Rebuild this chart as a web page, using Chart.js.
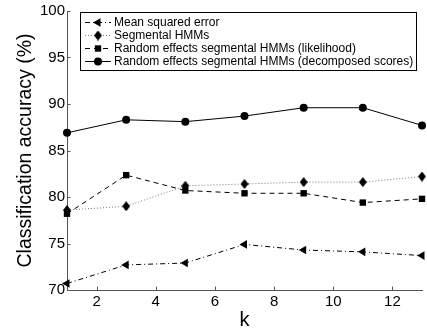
<!DOCTYPE html>
<html lang="en">
<head>
  <meta charset="UTF-8">
  <title>Classification accuracy vs k</title>
  <script src="https://cdn.jsdelivr.net/npm/chart.js"></script>
  <style>
    html, body {
      margin: 0;
      padding: 0;
      background: white;
    }
    #wrap {
      width: 427px;
      height: 329px;
    }
  </style>
</head>
<body>
  <div id="wrap"><canvas id="accChart" width="427" height="329"></canvas></div>

  <script>
    const kValues = [1, 3, 5, 7, 9, 11, 13];
    const mseAcc = [70.7, 72.7, 72.9, 74.9, 74.3, 74.1, 73.7];
    const segAcc = [78.6, 79.0, 81.2, 81.4, 81.6, 81.6, 82.2];
    const reLikAcc = [78.2, 82.35, 80.7, 80.4, 80.4, 79.4, 79.8];
    const reDecAcc = [86.9, 88.3, 88.1, 88.7, 89.6, 89.6, 87.7];

    const xTicks = [2, 4, 6, 8, 10, 12];
    const yTicks = [70, 75, 80, 85, 90, 95, 100];

    const seriesNames = [
      'Mean squared error',
      'Segmental HMMs',
      'Random effects segmental HMMs (likelihood)',
      'Random effects segmental HMMs (decomposed scores)'
    ];

    const FONT = '"Liberation Sans", Arial, Helvetica, sans-serif';
    const AXIS = '#555';

    // matlab style diamond, taller than wide
    const diamond = document.createElement('canvas');
    diamond.width = 8;
    diamond.height = 10;
    (function () {
      const c = diamond.getContext('2d');
      c.fillStyle = 'black';
      c.beginPath();
      c.moveTo(4, 0);
      c.lineTo(8, 5);
      c.lineTo(4, 10);
      c.lineTo(0, 5);
      c.closePath();
      c.fill();
    })();

    function toPoints(ys) {
      return kValues.map((k, i) => ({ x: k, y: ys[i] }));
    }

    // inward tick marks like matlab
    const innerTicks = {
      id: 'innerTicks',
      afterDraw(chart) {
        const ctx = chart.ctx;
        const xs = chart.scales.x;
        const ys = chart.scales.y;
        const area = chart.chartArea;
        ctx.save();
        ctx.strokeStyle = AXIS;
        ctx.lineWidth = 1;
        ctx.beginPath();
        yTicks.forEach(v => {
          const py = Math.round(ys.getPixelForValue(v)) + 0.5;
          ctx.moveTo(area.left, py);
          ctx.lineTo(area.left + 3.5, py);
        });
        xTicks.forEach(v => {
          const px = Math.round(xs.getPixelForValue(v)) + 0.5;
          ctx.moveTo(px, area.bottom);
          ctx.lineTo(px, area.bottom - 3.5);
        });
        ctx.stroke();
        ctx.restore();
      }
    };

    const boxLegend = {
      id: 'boxLegend',
      afterDraw(chart) {
        const ctx = chart.ctx;
        const left = 80.5, top = 12.5, w = 336, h = 58;
        ctx.save();
        ctx.fillStyle = 'white';
        ctx.fillRect(left, top, w, h);
        ctx.strokeStyle = 'black';
        ctx.lineWidth = 1;
        ctx.strokeRect(left, top, w, h);
        ctx.font = '12px ' + FONT;
        ctx.textBaseline = 'middle';
        ctx.textAlign = 'left';
        chart.data.datasets.forEach((ds, i) => {
          const y = 22.5 + i * 13;
          ctx.save();
          ctx.strokeStyle = ds.borderColor;
          ctx.lineWidth = ds.borderWidth;
          ctx.setLineDash(ds.borderDash || []);
          ctx.beginPath();
          ctx.moveTo(85, y);
          ctx.lineTo(111, y);
          ctx.stroke();
          ctx.restore();
          ctx.fillStyle = 'black';
          ctx.strokeStyle = 'black';
          Chart.helpers.drawPoint(ctx, {
            pointStyle: ds.pointStyle,
            radius: ds.pointRadius,
            rotation: ds.pointRotation || 0,
            borderWidth: 0
          }, 98, y);
          ctx.fillStyle = 'black';
          ctx.fillText(ds.label, 114, y + 0.5);
        });
        ctx.restore();
      }
    };

    const ctx = document.getElementById('accChart').getContext('2d');

    const chart = new Chart(ctx, {
      type: 'line',
      data: {
        datasets: [
          {
            label: seriesNames[0],
            data: toPoints(mseAcc),
            borderColor: 'black',
            borderWidth: 1,
            borderDash: [5, 3, 1, 3],
            pointStyle: 'triangle',
            pointRotation: -90,
            pointRadius: 5,
            backgroundColor: 'black',
            pointBorderWidth: 0
          },
          {
            label: seriesNames[1],
            data: toPoints(segAcc),
            borderColor: '#777',
            borderWidth: 1,
            borderDash: [1, 2],
            pointStyle: diamond,
            pointRadius: 5,
            backgroundColor: 'black',
            pointBorderWidth: 0
          },
          {
            label: seriesNames[2],
            data: toPoints(reLikAcc),
            borderColor: 'black',
            borderWidth: 1,
            borderDash: [5, 4],
            pointStyle: 'rect',
            pointRadius: 4.5,
            backgroundColor: 'black',
            pointBorderWidth: 0
          },
          {
            label: seriesNames[3],
            data: toPoints(reDecAcc),
            borderColor: 'black',
            borderWidth: 1,
            pointStyle: 'circle',
            pointRadius: 4,
            backgroundColor: 'black',
            pointBorderWidth: 0
          }
        ]
      },
      options: {
        responsive: false,
        animation: false,
        clip: false,
        layout: {
          padding: { left: 0, right: 3, top: 10, bottom: 0 }
        },
        elements: {
          line: { tension: 0 }
        },
        plugins: {
          legend: { display: false },
          tooltip: { enabled: false }
        },
        scales: {
          x: {
            type: 'linear',
            min: 1,
            max: 13,
            afterBuildTicks: s => { s.ticks = xTicks.map(v => ({ value: v })); },
            afterFit: s => { s.height = 39; },
            grid: { display: false, drawTicks: false },
            border: { display: true, color: AXIS, width: 1 },
            ticks: {
              color: 'black',
              padding: 3,
              font: { family: FONT, size: 15 }
            },
            title: {
              display: true,
              text: 'k',
              color: 'black',
              font: { family: FONT, size: 20, lineHeight: 0.9 },
              padding: { top: 0, bottom: 0 }
            }
          },
          y: {
            min: 70,
            max: 100,
            afterBuildTicks: s => { s.ticks = yTicks.map(v => ({ value: v })); },
            afterFit: s => { s.width = 67; },
            grid: { display: false, drawTicks: false },
            border: { display: true, color: AXIS, width: 1 },
            ticks: {
              color: 'black',
              padding: 2,
              font: { family: FONT, size: 15 }
            },
            title: {
              display: true,
              text: 'Classification accuracy (%)',
              color: 'black',
              font: { family: FONT, size: 19.5 },
              padding: { top: 14, bottom: 0 }
            }
          }
        }
      },
      plugins: [innerTicks, boxLegend]
    });
  </script>
</body>
</html>
